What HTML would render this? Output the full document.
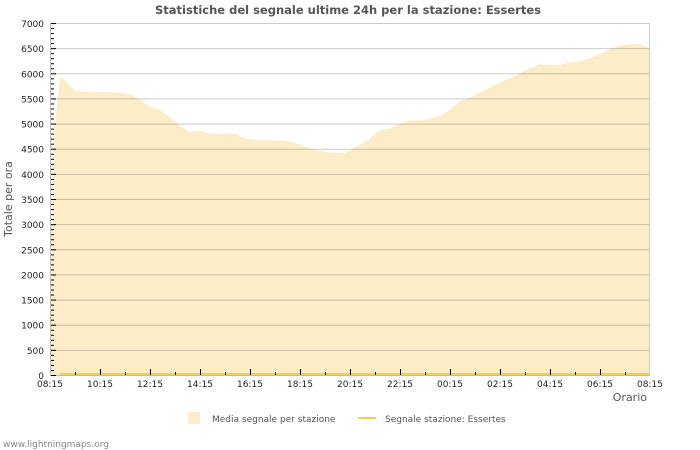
<!DOCTYPE html>
<html><head><meta charset="utf-8"><style>
body{margin:0;background:#fff;}
svg{display:block;font-family:"DejaVu Sans","Liberation Sans",sans-serif;}
</style></head><body>
<svg id="c" width="700" height="450" xmlns="http://www.w3.org/2000/svg">
<text x="348" y="14" text-anchor="middle" font-size="11.5" font-weight="bold" fill="#555">Statistiche del segnale ultime 24h per la stazione: Essertes</text>
<text transform="translate(12,199) rotate(-90)" text-anchor="middle" font-size="11" fill="#555">Totale per ora</text>
<text x="647" y="401" text-anchor="end" font-size="11" fill="#555">Orario</text>
<g id="area"></g><g id="grid"></g><g id="axes"></g>
<rect x="188" y="412" width="12" height="12" fill="#fdecc8"/>
<text x="212" y="422" font-size="9" fill="#555">Media segnale per stazione</text>
<line x1="358" y1="418" x2="376" y2="418" stroke="#fccc44" stroke-width="2"/>
<text x="385" y="422" font-size="9" fill="#555">Segnale stazione: Essertes</text>
<text x="3" y="447" font-size="9" fill="#888">www.lightningmaps.org</text>
</svg>
<script>
const hours=[0,0.16,0.4,0.6,1.0,1.4,2.0,2.6,3.2,3.6,4.0,4.4,4.8,5.2,5.6,6.0,6.4,7.4,7.8,8.4,9.4,10.0,10.4,11.2,11.8,12.4,12.8,13.2,13.6,14.0,14.4,14.8,15.2,15.6,16.0,16.4,16.8,17.2,17.6,18.0,18.4,18.8,19.2,19.6,20.0,20.4,20.8,21.2,21.6,22.0,22.4,22.8,23.2,23.6,23.96];
const avgValues=[0,4800,5925,5850,5660,5630,5630,5620,5580,5480,5330,5270,5130,4950,4840,4860,4800,4800,4700,4670,4660,4580,4500,4420,4420,4580,4700,4870,4900,5000,5060,5060,5100,5150,5280,5450,5510,5620,5720,5820,5900,6000,6100,6180,6160,6160,6220,6240,6300,6380,6480,6550,6580,6580,6500];
const stationValues=[0,0];
const stationHours=[0,24];
const yTicks=[0,500,1000,1500,2000,2500,3000,3500,4000,4500,5000,5500,6000,6500,7000];
const xTickLabels=["08:15","10:15","12:15","14:15","16:15","18:15","20:15","22:15","00:15","02:15","04:15","06:15","08:15"];
const X0=50,X1=650,Y0=375,Y1=23,YMAX=7000;
const xs=h=>X0+(X1-X0)*h/24, ys=v=>Y0-(Y0-Y1)*v/YMAX;
const NS="http://www.w3.org/2000/svg";
function mk(p,t,a){const e=document.createElementNS(NS,t);for(const k in a)e.setAttribute(k,a[k]);document.getElementById(p).appendChild(e);return e;}
yTicks.forEach(v=>{
 const l=mk('grid','line',{x1:X0,x2:X1,y1:ys(v)+0.5,y2:ys(v)+0.5,stroke:'rgba(0,0,0,0.2)','stroke-width':1});
 
 
 const t=mk('axes','text',{x:44,y:ys(v)+4,'text-anchor':'end','font-size':9,fill:'#222'});
 t.textContent=v;
 
 
});
let d='M'+xs(hours[0])+','+ys(0);
hours.forEach((h,i)=>{d+=' L'+xs(h)+','+ys(avgValues[i]);});
d+=' L'+xs(hours[hours.length-1])+','+ys(0)+' Z';
const a=mk('area','path',{d:d,fill:'#fdecc8'});


const sl=mk('axes','line',{x1:xs(stationHours[0])+10,x2:xs(stationHours[1]),y1:ys(stationValues[0])-1,y2:ys(stationValues[1])-1,stroke:'#fccc44','stroke-width':2});


mk('axes','line',{x1:X0+0.5,x2:X0+0.5,y1:Y1,y2:Y0,stroke:'#bbb'});
mk('axes','line',{x1:X1-0.5,x2:X1-0.5,y1:Y1,y2:Y0,stroke:'#ccc'});
mk('axes','line',{x1:X0,x2:X1,y1:Y1+0.5,y2:Y1+0.5,stroke:'#ccc'});
mk('axes','line',{x1:X0,x2:X1,y1:Y0+0.5,y2:Y0+0.5,stroke:'#bbb'});
for(let v=0;v<=YMAX;v+=100){mk('axes','line',{x1:X0+1,x2:X0+(v%500?4:6),y1:ys(v)+0.5,y2:ys(v)+0.5,stroke:'#000'});}
for(let h=1;h<24;h++){mk('axes','line',{x1:xs(h)+0.5,x2:xs(h)+0.5,y1:Y0,y2:Y0-(h%2?3:6),stroke:'#000'});}
xTickLabels.forEach((s,i)=>{
 const t=mk('axes','text',{x:xs(i*2),y:387,'text-anchor':'middle','font-size':9,fill:'#222'});
 t.textContent=s;
 
 
});
</script>
</body></html>
